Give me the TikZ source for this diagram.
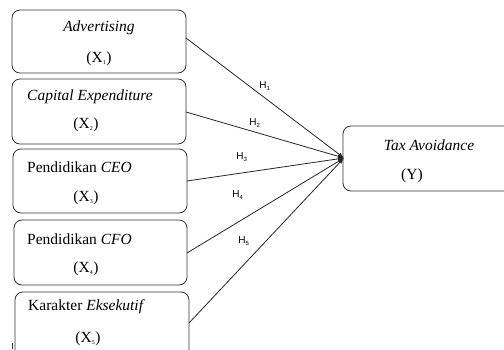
\documentclass[tikz,border=0pt]{standalone}
\usepackage{fontspec}
\setmainfont{Liberation Serif}
\newfontfamily\hfont{Liberation Sans}
\usetikzlibrary{arrows.meta}
\newcommand{\subsc}[1]{\textsubscript{\fontsize{6}{6}\selectfont #1}}
\begin{document}
\begin{tikzpicture}[x=1pt,y=-1pt,
  varbox/.style={draw=black!80,line width=0.8pt,rounded corners=8pt},
  lbl/.style={inner sep=0pt,font=\fontsize{15.5}{17}\selectfont},
  hlbl/.style={inner sep=0pt,font=\hfont\fontsize{10}{11}\selectfont},
  link/.style={draw=black!85,line width=0.8pt,-{Latex[length=6pt,width=4pt]}}]
\useasboundingbox (0,0) rectangle (504,349);
\begin{scope}
\clip (0,0) rectangle (504,349);
% boxes
\draw[varbox] (12,10) rectangle (186,73);
\draw[varbox] (12,79) rectangle (186,144);
\draw[varbox] (13,149) rectangle (187,213);
\draw[varbox] (14,220) rectangle (187,285);
\draw[varbox] (15,292) rectangle (189,365);
\draw[varbox] (343,126) rectangle (515,191);
\draw[black!80,line width=0.6pt] (12,343) -- (12,349);
\end{scope}
% texts
\node[lbl] (t1) at (99,28) {\textit{Advertising}};
\node[lbl] (s1) at (99,59) {(X\subsc{1})};
\node[lbl,anchor=west] (t2) at (27,97) {\textit{Capital Expenditure}};
\node[lbl] (s2) at (86,125) {(X\subsc{2})};
\node[lbl,anchor=west] (t3) at (27,167) {Pendidikan \textit{CEO}};
\node[lbl] (s3) at (86,198) {(X\subsc{3})};
\node[lbl,anchor=west] (t4) at (27,239) {Pendidikan \textit{CFO}};
\node[lbl] (s4) at (86,269) {(X\subsc{4})};
\node[lbl,anchor=west] (t5) at (28,307) {Karakter \textit{Eksekutif}};
\node[lbl] (s5) at (88,339) {(X\subsc{5})};
\node[lbl] (ty) at (429,145) {\textit{Tax Avoidance}};
\node[lbl] (sy) at (412,176) {(Y)};
% connector endpoints
\coordinate (tip) at (344,158);
\coordinate (a1) at (186,38);
\coordinate (a2) at (186,112);
\coordinate (a3) at (187,181);
\coordinate (a4) at (187,253);
\coordinate (a5) at (189,323);
\draw[link] (a1) -- (tip);
\draw[link] (a2) -- (tip);
\draw[link] (a3) -- (tip);
\draw[link] (a4) -- (tip);
\draw[link] (a5) -- (tip);
\node[hlbl] (h1) at (265,86) {H\subsc{1}};
\node[hlbl] (h2) at (255,123) {H\subsc{2}};
\node[hlbl] (h3) at (242,157) {H\subsc{3}};
\node[hlbl] (h4) at (238,195) {H\subsc{4}};
\node[hlbl] (h5) at (244,241) {H\subsc{5}};
\end{tikzpicture}
\end{document}
